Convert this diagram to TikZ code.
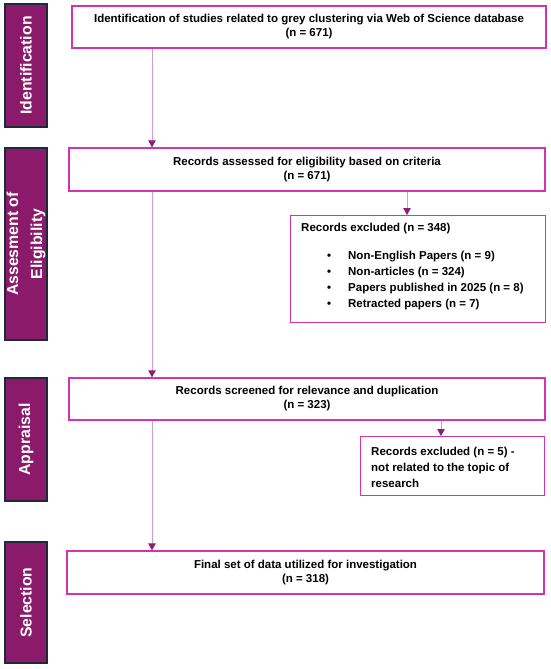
\documentclass[tikz,border=0pt]{standalone}
\usepackage{fontspec}
\setmainfont{Liberation Sans}
\usetikzlibrary{arrows.meta}
\definecolor{barfill}{HTML}{8B1A6B}
\definecolor{barline}{HTML}{1E2A3A}
\definecolor{boxline}{HTML}{D232B4}
\definecolor{arrline}{HTML}{D49BCB}
\definecolor{arrhead}{HTML}{8E1C78}
\begin{document}
\begin{tikzpicture}[x=1pt,y=-1pt,
  stagebar/.style={draw=barline, line width=1.4pt, fill=barfill, rotate=90,
    minimum height=42pt, inner sep=0pt, text=white, align=center,
    font=\fontsize{15.8}{24}\selectfont\bfseries},
  mainbox/.style={draw=boxline, line width=1.3pt, fill=white, inner sep=0pt,
    align=center, font=\fontsize{11.5}{14}\selectfont\bfseries},
  exbox/.style={draw=boxline, line width=1.3pt, fill=white, anchor=north west,
    inner sep=0pt},
  extext/.style={anchor=north west, inner sep=0pt, align=left,
    font=\fontsize{11.5}{16}\selectfont\bfseries},
  flow/.style={draw=arrline, line width=0.8pt,
    -{Triangle[width=7.5pt,length=7pt,color=arrhead]}}
]
\useasboundingbox (0,0) rectangle (550,669);
\fill[white] (0,0) rectangle (550,669);

% stage bars
\node[stagebar, minimum width=123pt] (s1) at (26,65.5) {Identification};
\node[stagebar, minimum width=192pt] (s2) at (26,244) {Assesment of\\Eligibility};
\node[stagebar, minimum width=123pt] (s3) at (26,439.5) {Appraisal};
\node[stagebar, minimum width=121pt] (s4) at (26,602.5) {Selection};

% main boxes
\node[mainbox, minimum width=474pt, minimum height=42pt] (b1) at (309,27)
  {Identification of studies related to grey clustering via Web of Science database\\(n = 671)};
\node[mainbox, minimum width=476pt, minimum height=43pt] (b2) at (307,169.5)
  {Records assessed for eligibility based on criteria\\(n = 671)};
\node[mainbox, minimum width=476pt, minimum height=42pt] (b3) at (307,399)
  {Records screened for relevance and duplication\\(n = 323)};
\node[mainbox, minimum width=477pt, minimum height=43pt] (b4) at (305.5,572.5)
  {Final set of data utilized for investigation\\(n = 318)};

% exclusion boxes
\node[exbox, minimum width=255pt, minimum height=107pt] (e1) at (290,215) {};
\node[extext] (e1t) at (301,222.5)
  {Records excluded (n = 348)\\[12pt]
   \makebox[47pt][l]{\hspace*{26pt}\textbullet}Non-English Papers (n = 9)\\
   \makebox[47pt][l]{\hspace*{26pt}\textbullet}Non-articles (n = 324)\\
   \makebox[47pt][l]{\hspace*{26pt}\textbullet}Papers published in 2025 (n = 8)\\
   \makebox[47pt][l]{\hspace*{26pt}\textbullet}Retracted papers (n = 7)};
\node[exbox, minimum width=184pt, minimum height=59pt] (e2) at (360,436) {};
\node[extext] (e2t) at (371,446.5)
  {Records excluded (n = 5) -\\not related to the topic of\\research};

% connector columns
\coordinate (spine) at (152,0);
\coordinate (c1) at (407,0);
\coordinate (c2) at (441,0);

\draw[flow] (spine |- b1.south) -- (spine |- b2.north);
\draw[flow] (spine |- b2.south) -- (spine |- b3.north);
\draw[flow] (spine |- b3.south) -- (spine |- b4.north);
\draw[flow] (c1 |- b2.south) -- (c1 |- e1.north);
\draw[flow] (c2 |- b3.south) -- (c2 |- e2.north);
\end{tikzpicture}
\end{document}
